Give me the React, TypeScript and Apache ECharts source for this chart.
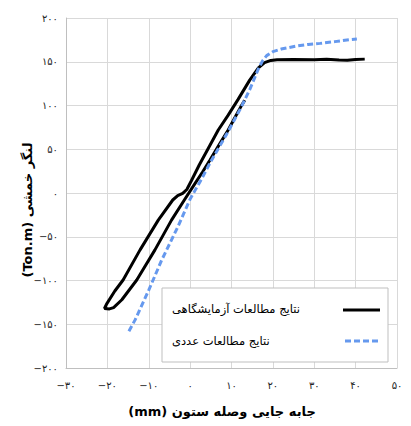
import React, { useEffect, useRef } from "react";
import * as echarts from "echarts";

// Experimental (black) hysteresis path: displacement (mm), moment (Ton.m)
const expDisp = [13.2, 12.3, 10.8, 9.2, 7.0, 4.8, 3.0, 1.2, -1.4, -4.5, -8.5, -12.9, -16.5, -18.5, -19.5, -20.7, -20.2, -18.2, -16.2, -12.1, -7.7, -4.2, -3.0, -1.8, -0.8, 0.3, 2.2, 4.5, 6.8, 9.2, 11.6, 14.4, 16.5, 18.0, 19.5, 21.0, 25.0, 30.0, 33.0, 36.0, 38.0, 40.0, 42.2];
const expMoment = [106, 99, 86, 72, 55, 37.7, 24, 11, -8, -31, -65, -99.4, -122, -131, -132.5, -132, -127, -112, -99.4, -65, -31, -8, -3, -0.5, 4, 14, 32, 52, 72, 89, 107, 129, 143, 149, 151.5, 152.3, 152.5, 152.2, 152.8, 152, 151.6, 152.6, 153];

// Numerical (blue dashed)
const numDisp = [-14.8, -13.3, -10, -6.9, -2.9, 0, 1.2, 3, 5, 8.8, 12, 14.4, 16.5, 17.5, 18.5, 20, 22, 25.7, 28.5, 31.4, 35, 39, 40.3];
const numMoment = [-158, -145, -111, -77, -38, -7, 3, 18, 36, 67, 95, 118, 142, 151, 157, 161.5, 164.5, 168, 169.8, 171, 173, 175.5, 176];

const seriesNames = ["نتایج مطالعات آزمایشگاهی", "نتایج مطالعات عددی"];
const xTitle = "(mm) جابه جایی وصله ستون";
const yTitle = "(Ton.m) لنگر خمشی";

const FA_DIGITS = "۰۱۲۳۴۵۶۷۸۹";
const toFa = (n: number) => {
  const s = String(Math.abs(n)).replace(/\d/g, (d) => FA_DIGITS[+d]);
  return n < 0 ? "−" + s : s;
};

const FONT = '"DejaVu Sans", sans-serif';
const BLUE = "#6699ee";

export default function App() {
  const ref = useRef<HTMLDivElement>(null);
  useEffect(() => {
    const chart = echarts.init(ref.current as HTMLDivElement, null, { renderer: "svg" });
    const expData = expDisp.map((x, i) => [x, expMoment[i]]);
    const numData = numDisp.map((x, i) => [x, numMoment[i]]);
    chart.setOption({
      animation: false,
      backgroundColor: "#ffffff",
      grid: { left: 66, top: 18, right: 14, bottom: 58, containLabel: false },
      xAxis: {
        type: "value",
        min: -30,
        max: 50,
        interval: 10,
        axisLine: { show: true, onZero: false, lineStyle: { color: "#bfbfbf", width: 1 } },
        axisTick: { show: false },
        splitLine: { show: true, lineStyle: { color: "#d9d9d9", width: 1 } },
        axisLabel: {
          formatter: (v: number) => toFa(v),
          fontFamily: FONT,
          fontSize: 10,
          color: "#222",
          margin: 12,
        },
      },
      yAxis: {
        type: "value",
        min: -200,
        max: 200,
        interval: 50,
        axisLine: { show: true, onZero: false, lineStyle: { color: "#bfbfbf", width: 1 } },
        axisTick: { show: false },
        splitLine: { show: true, lineStyle: { color: "#d9d9d9", width: 1 } },
        axisLabel: {
          formatter: (v: number) => toFa(v),
          fontFamily: FONT,
          fontSize: 10,
          color: "#222",
          margin: 8,
        },
      },
      series: [
        {
          name: seriesNames[0],
          type: "line",
          data: expData,
          showSymbol: false,
          symbol: "none",
          lineStyle: { color: "#000000", width: 3 },
          z: 2,
        },
        {
          name: seriesNames[1],
          type: "line",
          data: numData,
          showSymbol: false,
          symbol: "none",
          lineStyle: { color: BLUE, width: 3, type: [6, 3] },
          z: 3,
        },
      ],
      graphic: [
        {
          type: "rect",
          z: 100,
          shape: { x: 162, y: 288, width: 226, height: 74 },
          style: { fill: "#ffffff", stroke: "#bfbfbf", lineWidth: 1 },
        },
        {
          type: "text",
          z: 101,
          x: 172,
          y: 309,
          style: { text: seriesNames[0], font: `11.5px ${FONT}`, fill: "#000", align: "left", verticalAlign: "middle" },
        },
        {
          type: "line",
          z: 101,
          shape: { x1: 343, y1: 310, x2: 380, y2: 310 },
          style: { stroke: "#000", lineWidth: 3 },
        },
        {
          type: "text",
          z: 101,
          x: 172,
          y: 341,
          style: { text: seriesNames[1], font: `11.5px ${FONT}`, fill: "#000", align: "left", verticalAlign: "middle" },
        },
        {
          type: "line",
          z: 101,
          shape: { x1: 345, y1: 341, x2: 380, y2: 341 },
          style: { stroke: BLUE, lineWidth: 3, lineDash: [6, 3] },
        },
        {
          type: "text",
          z: 101,
          x: 222,
          y: 411,
          style: { text: xTitle, font: `bold 13px ${FONT}`, fill: "#000", align: "center", verticalAlign: "middle" },
        },
        {
          type: "text",
          z: 101,
          x: 27,
          y: 210,
          rotation: Math.PI / 2,
          style: { text: yTitle, font: `bold 13px ${FONT}`, fill: "#000", align: "center", verticalAlign: "middle" },
        },
      ],
    });
    return () => chart.dispose();
  }, []);
  return <div ref={ref} style={{ position: "fixed", left: 0, top: 0, width: 411, height: 426 }} />;
}
